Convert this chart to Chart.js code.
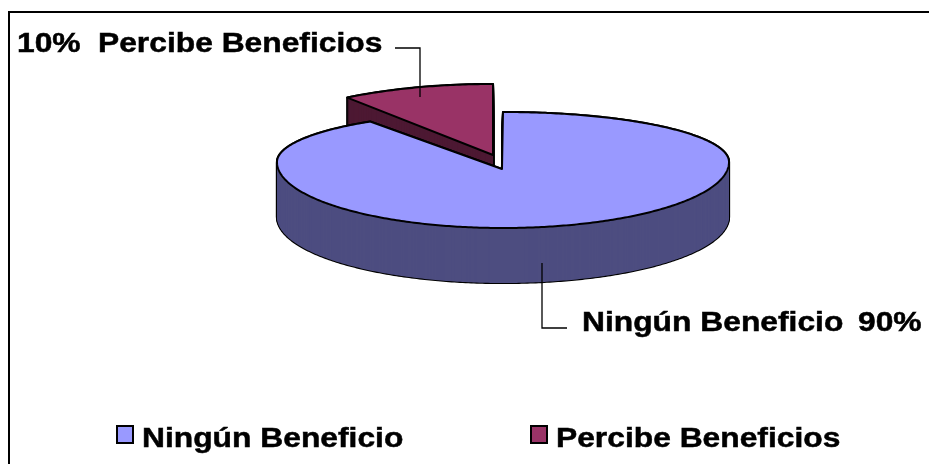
<!DOCTYPE html>
<html>
<head>
<meta charset="utf-8">
<script src="https://cdn.jsdelivr.net/npm/chart.js@4.4.1/dist/chart.umd.min.js"></script>
<style>
  html, body { margin: 0; padding: 0; background: #fff; }
  #wrap { position: relative; width: 929px; height: 464px; }
</style>
</head>
<body>
<div id="wrap"><canvas id="pieChart" width="929" height="464"></canvas></div>
<script>
const categories = ["Ningún Beneficio", "Percibe Beneficios"];
const values = [90, 10];
const topColors = ["#9999FF", "#993366"];
const sideColors = ["#4D4D80", "#4D1933"];

// screen ellipse for each slice's top face; back half flatter than front (perspective),
// the small slice is pulled out and drawn a bit bigger
const faces = [
    { cx: 503, cy: 162, vx: 502, vy: 169, rx: 226, ryBack: 50, ryFront: 66, depth: 55 },
    { cx: 493, cy: 155, vx: 493, vy: 155, rx: 248, ryBack: 71, ryFront: 71, depth: 60 }
];

// data label spots: name, percentage, leader line
const labelSpots = [
    { name: [582, 331], pct: [858, 331], line: [[542, 263], [542, 328], [567, 328]] },
    { name: [98, 52], pct: [17, 52], line: [[395, 48], [420, 48], [420, 97]] }
];

const legendSpots = [[117, 426], [531, 426]];

const FONT = 'bold 28px "Liberation Sans", Arial, sans-serif';
const STRETCH = 1.135;

function wideText(ctx, txt, x, y) {
    ctx.save();
    ctx.translate(x, y);
    ctx.scale(STRETCH, 1);
    ctx.fillText(txt, 0, 0);
    ctx.lineWidth = 0.5;
    ctx.strokeStyle = ctx.fillStyle;
    ctx.strokeText(txt, 0, 0);
    ctx.restore();
}

const pie3d = {
    id: "pie3d",
    beforeDatasetsDraw(chart) {
        const ctx = chart.ctx;
        const arcs = chart.getDatasetMeta(0).data;

        // back slice first, front slice covers it
        [1, 0].forEach((i) => {
            const arc = arcs[i];
            const f = faces[i];
            const a0 = arc.startAngle;
            const a1 = arc.endAngle;

            const wedge = (d) => {
                ctx.beginPath();
                ctx.moveTo(f.vx, f.vy + d);
                const steps = Math.max(12, Math.ceil((a1 - a0) * 80));
                for (let k = 0; k <= steps; k++) {
                    const a = a0 + (a1 - a0) * k / steps;
                    const s = Math.sin(a);
                    const ry = s < 0 ? f.ryBack : f.ryFront;
                    ctx.lineTo(f.cx + Math.cos(a) * f.rx, f.cy + d + s * ry);
                }
                ctx.closePath();
            };

            ctx.save();
            ctx.lineJoin = "round";

            // outline of the extruded body
            ctx.strokeStyle = "#000";
            ctx.lineWidth = 2.2;
            for (let d = f.depth; d >= 0; d--) {
                wedge(d);
                ctx.stroke();
            }
            // side walls
            ctx.fillStyle = sideColors[i];
            for (let d = f.depth; d >= 1; d--) {
                wedge(d);
                ctx.fill();
            }
            // top face
            wedge(0);
            ctx.fillStyle = topColors[i];
            ctx.fill();
            ctx.lineWidth = 2;
            ctx.stroke();
            ctx.restore();
        });
        return false;
    },
    afterDraw(chart) {
        const ctx = chart.ctx;
        const total = values.reduce((s, v) => s + v, 0);

        ctx.save();
        // frame
        ctx.strokeStyle = "#000";
        ctx.lineWidth = 2;
        ctx.beginPath();
        ctx.moveTo(9, 470);
        ctx.lineTo(9, 12);
        ctx.lineTo(935, 12);
        ctx.stroke();

        ctx.font = FONT;
        ctx.fillStyle = "#000";
        ctx.textBaseline = "alphabetic";

        // data labels with leader lines
        categories.forEach((name, i) => {
            const s = labelSpots[i];
            const pct = Math.round(values[i] / total * 100) + "%";
            wideText(ctx, name, s.name[0], s.name[1]);
            wideText(ctx, pct, s.pct[0], s.pct[1]);
            ctx.strokeStyle = "#000";
            ctx.lineWidth = 1.3;
            ctx.beginPath();
            s.line.forEach((p, k) => (k ? ctx.lineTo(p[0], p[1]) : ctx.moveTo(p[0], p[1])));
            ctx.stroke();
        });

        // legend
        categories.forEach((name, i) => {
            const [x, y] = legendSpots[i];
            ctx.fillStyle = topColors[i];
            ctx.fillRect(x, y, 16, 17);
            ctx.lineWidth = 2;
            ctx.strokeStyle = "#000";
            ctx.strokeRect(x, y, 16, 17);
            ctx.fillStyle = "#000";
            wideText(ctx, name, x + 25, 447);
        });
        ctx.restore();
    }
};

new Chart(document.getElementById("pieChart"), {
    type: "pie",
    data: {
        labels: categories,
        datasets: [{
            data: values,
            backgroundColor: topColors,
            borderColor: "#000",
            borderWidth: 2
        }]
    },
    options: {
        responsive: false,
        animation: false,
        plugins: {
            legend: { display: false },
            tooltip: { enabled: false }
        }
    },
    plugins: [pie3d]
});
</script>
</body>
</html>
